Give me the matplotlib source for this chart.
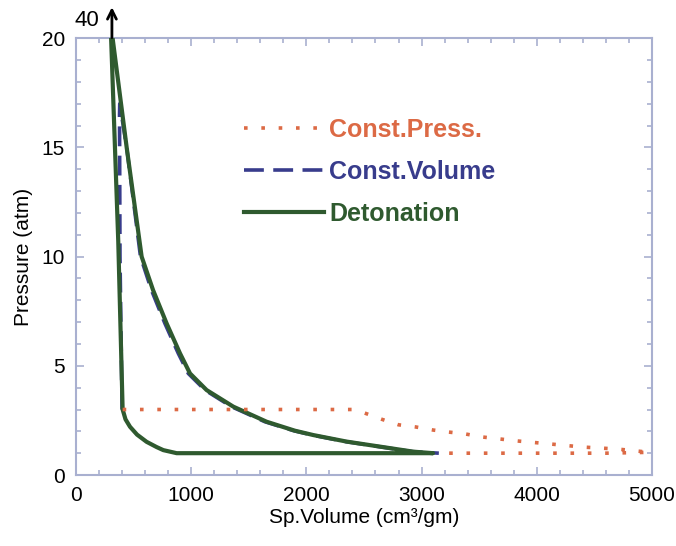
import matplotlib.pyplot as plt
from matplotlib.ticker import MultipleLocator

plt.rcParams['font.family'] = ['Liberation Sans', 'DejaVu Sans']

# Detonation cycle (green, solid)
det_vol = [305, 367, 405, 430, 469, 530, 613, 700, 758, 874, 3100, 2928,
           2639, 2350, 2060, 1900, 1655, 1366, 1134, 990, 903, 787, 669,
           570, 440, 318]
det_p = [20, 10.7, 3, 2.55, 2.21, 1.85, 1.52, 1.28, 1.14, 1, 1, 1.07,
         1.3, 1.53, 1.83, 2.03, 2.44, 3.13, 3.89, 4.65, 5.57, 6.94, 8.47,
         10, 15, 20]

# Constant volume cycle (blue, dashed)
cv_vol = [400, 382, 378, 380, 440, 560, 655, 772, 888, 975, 1120, 1350,
          1640, 1890, 2050, 2340, 2630, 2920, 3150]
cv_p = [3, 10, 16.5, 17, 15, 10, 8.47, 6.94, 5.57, 4.65, 3.89, 3.13,
        2.44, 2.03, 1.83, 1.53, 1.3, 1.07, 1]

# Constant pressure cycle (orange, dotted)
cp_vol = [405, 2400, 2500, 2650, 2800, 2950, 3100, 3230, 3380, 3530, 3830,
          4120, 4400, 4700, 4980, 4600, 4000, 3150]
cp_p = [3, 3, 2.85, 2.56, 2.3, 2.2, 2.06, 1.97, 1.88, 1.74, 1.56,
        1.42, 1.28, 1.19, 1.04, 1, 1, 1]

green = '#2f5a2f'
blue = '#383c8c'
orange = '#dc6a45'
axis_col = '#a9b0d0'

fig = plt.figure(figsize=(6.76, 5.46), dpi=100)
ax = fig.add_axes([0.1124, 0.130, 0.852, 0.800])

ax.plot(cv_vol, cv_p, color=blue, lw=2.6, ls=(0, (5.5, 2.6)),
        label='Const.Volume', zorder=2)
ax.plot(det_vol, det_p, color=green, lw=3.0, label='Detonation', zorder=3)
ax.plot(cp_vol, cp_p, color=orange, lw=2.6, ls=(0, (1, 3.8)),
        label='Const.Press.', zorder=4)

ax.set_xlim(0, 5000)
ax.set_ylim(0, 20)
ax.xaxis.set_major_locator(MultipleLocator(1000))
ax.xaxis.set_minor_locator(MultipleLocator(200))
ax.yaxis.set_major_locator(MultipleLocator(5))
ax.yaxis.set_minor_locator(MultipleLocator(1))
ax.tick_params(which='both', direction='in', top=True, right=True,
               color=axis_col, labelsize=15, width=1.2)
ax.tick_params(which='major', length=6, pad=8)
ax.tick_params(which='minor', length=3.5)
for sp in ax.spines.values():
    sp.set_color(axis_col)
    sp.set_linewidth(1.5)

ax.set_xlabel('Sp.Volume (cm³/gm)', fontsize=15, labelpad=2)
ax.set_ylabel('Pressure (atm)', fontsize=15, labelpad=6)

# off-scale marker: detonation peak reaches 40 atm
ax.annotate('', xy=(312, 21.55), xytext=(312, 19.9),
            arrowprops=dict(arrowstyle='->', lw=2, color='black',
                            mutation_scale=16),
            annotation_clip=False)
ax.text(205, 20.8, '40', fontsize=16, ha='right', va='center', clip_on=False)

handles, labels = ax.get_legend_handles_labels()
order = [2, 0, 1]
leg = ax.legend([handles[i] for i in order], [labels[i] for i in order],
                loc='upper left', bbox_to_anchor=(0.292, 0.817), frameon=False,
                prop={'weight': 'bold', 'size': 18}, labelcolor='linecolor',
                handlelength=3.2, handletextpad=0.2, labelspacing=0.72,
                borderpad=0, borderaxespad=0)

fig.savefig('out.png', dpi=100)
